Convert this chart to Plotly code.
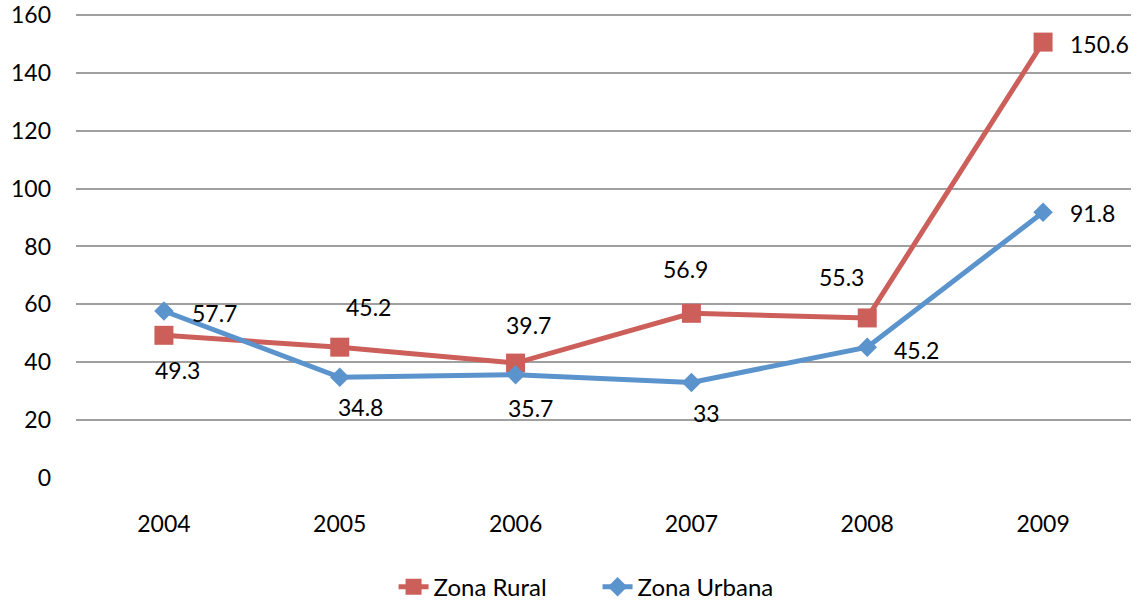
import plotly.graph_objects as go

years = ["2004", "2005", "2006", "2007", "2008", "2009"]
rural = [49.3, 45.2, 39.7, 56.9, 55.3, 150.6]
urbana = [57.7, 34.8, 35.7, 33, 45.2, 91.8]
y_ticks = [0, 20, 40, 60, 80, 100, 120, 140, 160]

# label placement (pixel offsets from the point, anchor)
rural_label_style = [(14, -35, "center"), (29, 40, "center"), (13, 38, "center"),
                     (-6, 44, "center"), (-26, 41, "center"), (25, -2, "left")]
urbana_label_style = [(26, -2, "left"), (21, -30, "center"), (15, -33, "center"),
                      (15, -31, "center"), (25, -3, "left"), (25, -1, "left")]

font = "Lato, Open Sans, sans-serif"
red = "#CD5F5B"
blue = "#5B93CD"

fig = go.Figure()
fig.add_trace(go.Scatter(
    x=years, y=rural, name="Zona Rural", mode="lines+markers",
    line=dict(color=red, width=5),
    marker=dict(symbol="square", size=19, color=red),
))
fig.add_trace(go.Scatter(
    x=years, y=urbana, name="Zona Urbana", mode="lines+markers",
    line=dict(color=blue, width=5),
    marker=dict(symbol="diamond", size=15, color=blue),
))

for vals, styles in ((rural, rural_label_style), (urbana, urbana_label_style)):
    for i, (v, (dx, dy, anc)) in enumerate(zip(vals, styles)):
        fig.add_annotation(x=i, y=v, xref="x", yref="y", text="%g" % v, showarrow=False,
                           xshift=dx, yshift=dy, xanchor=anc, yanchor="middle",
                           font=dict(family=font, size=23, color="black"))

fig.update_layout(
    width=1137, height=602,
    margin=dict(l=76, r=6, t=12, b=124, autoexpand=False),
    paper_bgcolor="white", plot_bgcolor="white",
    font=dict(family=font, size=23, color="black"),
    showlegend=True,
    legend=dict(orientation="h", x=0.301, xanchor="left", y=-0.234, yanchor="middle",
                font=dict(family=font, size=24), traceorder="normal",
                entrywidth=159, entrywidthmode="pixels"),
    xaxis=dict(type="category", range=[-0.5, 5.5], showgrid=False, zeroline=False,
               showline=False, ticks="", ticklabelstandoff=30, automargin=False),
    yaxis=dict(range=[0, 161], tickvals=y_ticks, showgrid=True, gridcolor="#A0A0A0",
               gridwidth=2, zeroline=False, showline=False, ticks="", ticklabelstandoff=24,
               automargin=False, ticklabeloverflow="allow"),
)

fig.write_html("out.html", config={"displayModeBar": False},
               post_script="document.body.style.margin='0';")
